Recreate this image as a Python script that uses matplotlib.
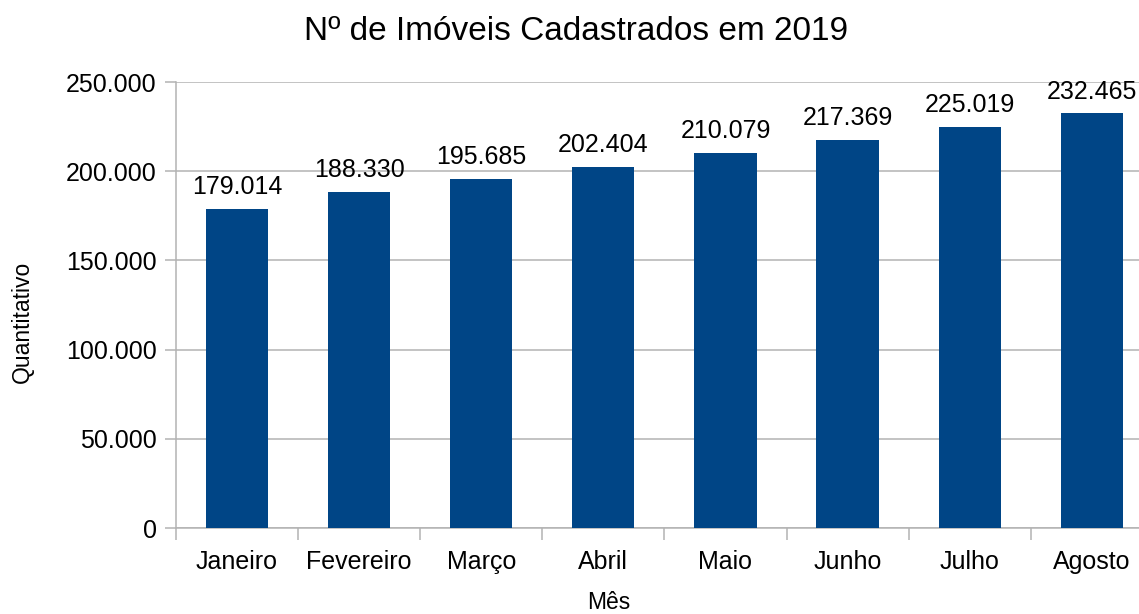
import matplotlib.pyplot as plt
from matplotlib.ticker import FuncFormatter

# dados
meses = ['Janeiro', 'Fevereiro', 'Março', 'Abril', 'Maio', 'Junho', 'Julho', 'Agosto']
imoveis = [179014, 188330, 195685, 202404, 210079, 217369, 225019, 232465]

plt.rcParams['font.family'] = ['Liberation Sans', 'DejaVu Sans']

W, H = 1139, 614
fig = plt.figure(figsize=(W / 100, H / 100), dpi=100)

# area do grafico (passa um pouco da borda direita, como na referencia)
x0, x1 = 176, 1152.8
y_top, y_bot = 82, 528
ax = fig.add_axes([x0 / W, (H - y_bot) / H, (x1 - x0) / W, (y_bot - y_top) / H])

cor = '#004586'
cinza = '#b3b3b3'

pos = range(len(meses))
barras = ax.bar(pos, imoveis, width=0.51, color=cor, zorder=3)

def fmt_milhar(v, p=None):
    return f'{int(v):,}'.replace(',', '.')

for b, v in zip(barras, imoveis):
    ax.annotate(fmt_milhar(v), (b.get_x() + b.get_width() / 2, v),
                xytext=(0, 7), textcoords='offset points',
                ha='center', va='bottom', fontsize=18, color='#000000')

ax.set_xlim(-0.5, len(meses) - 0.5)
ax.set_ylim(0, 250000)
ax.set_yticks(range(0, 250001, 50000))
ax.yaxis.set_major_formatter(FuncFormatter(fmt_milhar))

ax.set_xticks(list(pos))
ax.set_xticklabels(meses)
ax.set_xticks([i - 0.5 for i in range(len(meses) + 1)], minor=True)

ax.grid(axis='y', color=cinza, linewidth=1.1, zorder=0)
for s in ['top', 'right']:
    ax.spines[s].set_visible(False)
ax.spines['left'].set_color(cinza)
ax.spines['bottom'].set_color(cinza)
ax.spines['left'].set_linewidth(1.1)
ax.spines['bottom'].set_linewidth(1.1)

ax.tick_params(axis='y', length=8, width=1.1, color=cinza, pad=6, labelsize=18)
ax.tick_params(axis='x', which='major', length=0, pad=16, labelsize=18)
ax.tick_params(axis='x', which='minor', length=8.5, width=1.1, color=cinza)

fig.text(576 / W, 1 - 31 / H, 'Nº de Imóveis Cadastrados em 2019',
         ha='center', va='center', fontsize=24)
fig.text(22 / W, 1 - 322 / H, 'Quantitativo', rotation=90,
         ha='center', va='center', fontsize=16.5)
fig.text(609 / W, 1 - 609 / H, 'Mês', ha='center', va='baseline', fontsize=16.5)

fig.savefig('out.png', dpi=100)
